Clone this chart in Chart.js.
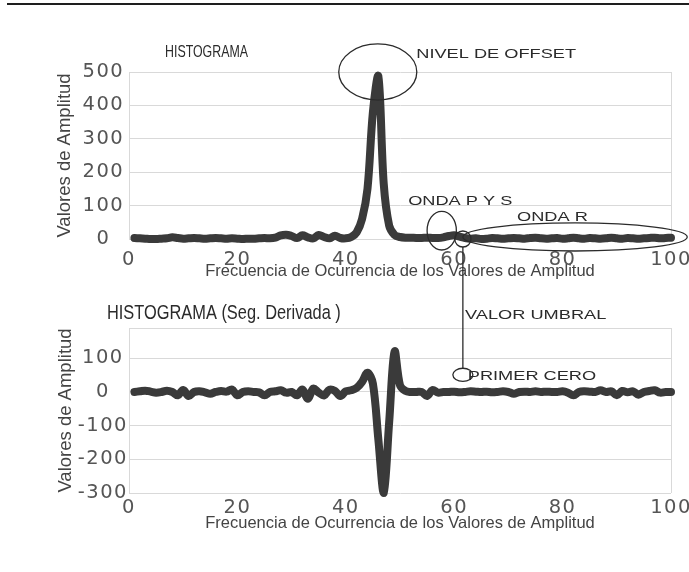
<!DOCTYPE html>
<html>
<head>
<meta charset="utf-8">
<script src="https://cdn.jsdelivr.net/npm/chart.js@4.4.1/dist/chart.umd.min.js"></script>
<style>
  html, body { margin: 0; padding: 0; background: #fff; }
  #page { position: relative; width: 689px; height: 572px; overflow: hidden; }
  .regla { position: absolute; left: 7px; right: 0; top: 3px; height: 2px; background: #1e1e1e; }
  #chartTop { position: absolute; left: 0; top: 0; }
  #chartBottom { position: absolute; left: 0; top: 285px; }
</style>
</head>
<body>
<div id="page">
  <div class="regla"></div>
  <canvas id="chartTop" width="689" height="285"></canvas>
  <canvas id="chartBottom" width="689" height="287"></canvas>
</div>
<script>
// muestras del histograma (eje x)
const muestras = Array.from({ length: 100 }, (_, i) => i + 1);

// histograma de amplitudes
const histograma = [
  3, 2, 1, 0, 0, 1, 2, 5, 3, 1,
  2, 3, 2, 1, 2, 3, 2, 1, 2, 1,
  0, 1, 1, 2, 3, 2, 4, 11, 13, 9,
  3, 11, 5, 2, 12, 6, 2, 10, 3, 2,
  6, 20, 60, 150, 380, 488, 165, 40, 12, 6,
  4, 4, 3, 3, 4, 3, 3, 5, 9, 11,
  7, 3, 1, 2, 0, 1, 3, 2, 1, 2,
  3, 2, 1, 3, 4, 2, 1, 2, 3, 1,
  2, 4, 2, 1, 3, 2, 1, 2, 4, 2,
  1, 3, 2, 1, 2, 3, 4, 2, 3, 4
];

// segunda derivada del histograma
const segDerivada = [
  0, 2, 4, 1, -2, 0, 4, 0, -10, 6,
  -12, 0, 2, -1, -5, 0, 3, 1, 7, -10,
  0, 2, 0, -1, -10, 0, 2, 5, -2, 0,
  -10, 7, -20, 10, -2, -10, 7, 3, -12, 2,
  5, 12, 30, 57, 25, -140, -300, -90, 120, 20,
  3, 0, 0, 0, -12, 6, -2, 0, 0, 1,
  -1, 0, 2, 1, 0, 1, -1, 0, 2, 0,
  -5, 0, 1, 0, 2, 0, 1, 0, 0, 2,
  -2, -10, 0, 2, 1, 0, 5, 0, 2, -10,
  3, -1, 2, -8, 0, 3, 5, -2, 0, 0
];

const ticksX = [0, 20, 40, 60, 80, 100];
const ticksYHist = [0, 100, 200, 300, 400, 500];
const ticksYDeriv = [-300, -200, -100, 0, 100];

const TITULO_X = 'Frecuencia de Ocurrencia de los Valores de Amplitud';
const TITULO_Y = 'Valores de Amplitud';

const fuenteTicks = { family: "'DejaVu Sans', sans-serif", size: 19.5 };
const fuenteTituloX = { family: "'Liberation Sans', Arial, sans-serif", size: 16.5 };
const fuenteTituloY = { family: "'Liberation Sans', Arial, sans-serif", size: 18.5 };
const SANS = "'Liberation Sans', Arial, sans-serif";
const GRIS = '#d9d9d9';

function ejeX(padTicks, alto) {
  return {
    type: 'linear',
    min: 0,
    max: 100,
    afterBuildTicks: (s) => { s.ticks = ticksX.map(v => ({ value: v })); },
    ticks: { font: fuenteTicks, color: '#555', padding: padTicks, maxRotation: 0, autoSkip: false },
    grid: {
      drawTicks: false,
      color: (c) => (c.tick && (c.tick.value === 0 || c.tick.value === 100)) ? GRIS : 'rgba(0,0,0,0)'
    },
    border: { display: false },
    title: { display: true, text: TITULO_X, font: fuenteTituloX, color: '#444', padding: 0 },
    afterFit: (s) => {
      s.height = alto;
      // que el "100" no encoja el area del grafico
      s.paddingLeft = 0;
      s.paddingRight = 0;
    }
  };
}

function ejeY(min, max, ticks, padTicks, padTitulo, ancho) {
  return {
    min: min,
    max: max,
    afterBuildTicks: (s) => {
      const vals = ticks.includes(max) ? ticks : ticks.concat(max);
      s.ticks = vals.map(v => ({ value: v }));
    },
    ticks: {
      font: fuenteTicks,
      color: '#555',
      padding: padTicks,
      crossAlign: 'center',
      callback: (v) => ticks.includes(v) ? String(v) : ''
    },
    grid: { drawTicks: false, color: GRIS },
    border: { display: true, color: GRIS },
    title: { display: true, text: TITULO_Y, font: fuenteTituloY, color: '#444', padding: { top: padTitulo, bottom: 0 } },
    afterFit: (s) => {
      s.width = ancho;
      s.paddingTop = 0;
      s.paddingBottom = 0;
    }
  };
}

function serie(valores) {
  return {
    data: valores,
    borderColor: '#3a3a3a',
    borderWidth: 8,
    pointRadius: 0,
    tension: 0.35,
    borderCapStyle: 'round',
    borderJoinStyle: 'round',
    clip: false
  };
}

// numeros de los ejes un poco mas abiertos
const ticksAnchos = {
  id: 'ticksAnchos',
  beforeDraw(chart) {
    Object.values(chart.scales).forEach((s) => {
      if (s._anchos) return;
      const original = s.drawLabels;
      s.drawLabels = function (area) {
        this.ctx.letterSpacing = '1.5px';
        original.call(this, area);
        this.ctx.letterSpacing = '0px';
      };
      s._anchos = true;
    });
  }
};

// helpers de anotaciones, en coordenadas de datos
function elipse(chart, cx, cy, rx, ry) {
  const { ctx, scales: { x, y } } = chart;
  const px = x.getPixelForValue(cx);
  const py = y.getPixelForValue(cy);
  const rpx = Math.abs(x.getPixelForValue(cx + rx) - px);
  const rpy = Math.abs(y.getPixelForValue(cy + ry) - py);
  ctx.beginPath();
  ctx.ellipse(px, py, rpx, rpy, 0, 0, Math.PI * 2);
  ctx.stroke();
}

function rotulo(chart, texto, vx, vy, size, estirar, align) {
  const { ctx, scales: { x, y } } = chart;
  ctx.save();
  ctx.translate(x.getPixelForValue(vx), y.getPixelForValue(vy));
  ctx.scale(estirar, 1);
  ctx.font = size + 'px ' + SANS;
  ctx.fillStyle = '#2b2b2b';
  ctx.textAlign = align;
  ctx.textBaseline = 'middle';
  ctx.fillText(texto, 0, 0);
  ctx.restore();
}

const notasHist = {
  id: 'notasHist',
  afterDraw(chart) {
    const { ctx, scales: { x, y } } = chart;
    ctx.save();
    ctx.strokeStyle = '#2b2b2b';
    ctx.lineWidth = 1.3;

    rotulo(chart, 'HISTOGRAMA', 14.3, 560, 16.5, 0.75, 'center');

    elipse(chart, 45.9, 500, 7.2, 84);
    rotulo(chart, 'NIVEL DE OFFSET', 53, 554, 13, 1.4, 'left');

    rotulo(chart, 'ONDA P Y S', 51.5, 114, 13, 1.4, 'left');
    elipse(chart, 57.7, 25, 2.7, 58);

    rotulo(chart, 'ONDA R', 71.6, 66, 13, 1.4, 'left');
    elipse(chart, 82.3, 6, 20.7, 42);

    // valor umbral: circulo y linea hacia el primer cero
    elipse(chart, 61.6, 0, 1.5, 24);
    const ux = x.getPixelForValue(61.6);
    ctx.beginPath();
    ctx.moveTo(ux, y.getPixelForValue(-24));
    ctx.lineTo(ux, chart.height);
    ctx.stroke();
    ctx.restore();
  }
};

const notasDeriv = {
  id: 'notasDeriv',
  afterDraw(chart) {
    const { ctx, scales: { x, y } } = chart;
    ctx.save();
    ctx.strokeStyle = '#2b2b2b';
    ctx.lineWidth = 1.3;

    rotulo(chart, 'HISTOGRAMA (Seg. Derivada )', 17.5, 235, 20.5, 0.8, 'center');
    rotulo(chart, 'VALOR UMBRAL', 62, 226, 13, 1.4, 'left');
    rotulo(chart, 'PRIMER CERO', 62.5, 47, 13, 1.4, 'left');

    elipse(chart, 61.6, 51, 1.85, 19.4);
    const ux = x.getPixelForValue(61.6);
    ctx.beginPath();
    ctx.moveTo(ux, 0);
    ctx.lineTo(ux, y.getPixelForValue(51 + 19.4));
    ctx.stroke();
    ctx.restore();
  }
};

const opcionesBase = {
  responsive: false,
  animation: false,
  plugins: { legend: { display: false }, tooltip: { enabled: false } }
};

new Chart(document.getElementById('chartTop'), {
  type: 'line',
  data: { labels: muestras, datasets: [serie(histograma)] },
  options: {
    ...opcionesBase,
    layout: { padding: { top: 72, right: 18, bottom: 4, left: 0 } },
    scales: {
      x: ejeX(9, 42),
      y: ejeY(0, 500, ticksYHist, 7, 54, 129)
    }
  },
  plugins: [ticksAnchos, notasHist]
});

new Chart(document.getElementById('chartBottom'), {
  type: 'line',
  data: { labels: muestras, datasets: [serie(segDerivada)] },
  options: {
    ...opcionesBase,
    layout: { padding: { top: 43, right: 18, bottom: 39, left: 0 } },
    scales: {
      x: ejeX(3, 40),
      y: ejeY(-300, 190, ticksYDeriv, 4, 55, 129)
    }
  },
  plugins: [ticksAnchos, notasDeriv]
});
</script>
</body>
</html>
